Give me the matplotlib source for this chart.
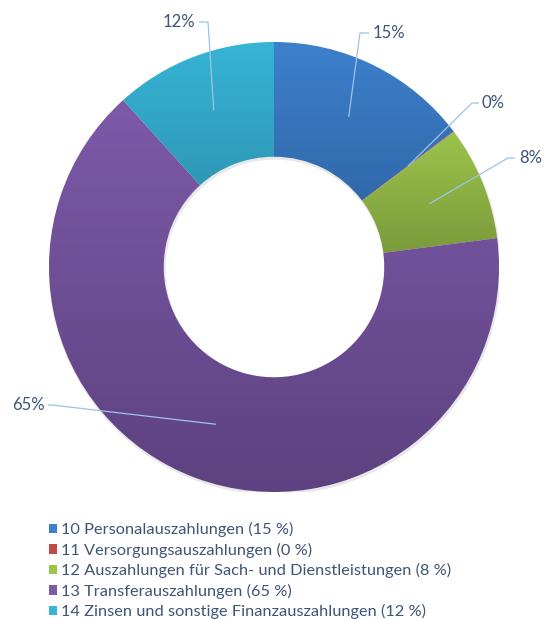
import numpy as np
import matplotlib
matplotlib.use("Agg")
import matplotlib.pyplot as plt
from matplotlib.colors import LinearSegmentedColormap
from matplotlib.patches import Rectangle, Wedge

plt.rcParams['font.family'] = ['Lato', 'DejaVu Sans']

# ---- data ----
categories = ["10 Personalauszahlungen",
              "11 Versorgungsauszahlungen",
              "12 Auszahlungen für Sach- und Dienstleistungen",
              "13 Transferauszahlungen",
              "14 Zinsen und sonstige Finanzauszahlungen"]
shares = [14.7, 0.05, 8.2, 65.35, 11.7]
top_colors = ["#3d80cc", "#c44a47", "#9cc44b", "#7d5aa8", "#37b4d6"]
bottom_colors = ["#2c5e9c", "#963836", "#77963a", "#5d4180", "#2a88a4"]

TXT = "#3e5575"
LINE = "#9dc3e6"

W, H = 544, 619
fig = plt.figure(figsize=(W / 100, H / 100), dpi=100)
cx, cy, R = 274, 267, 225
ax = fig.add_axes([(cx - R) / W, (H - cy - R) / H, 2 * R / W, 2 * R / H])

ring_w = 0.51
# soft shadow
ax.add_patch(Wedge((0.004, -0.009), 1.004, 0, 360, width=ring_w + 0.008,
                   facecolor="#000000", alpha=0.09, linewidth=0))

wedges, _ = ax.pie(shares, startangle=90, counterclock=False, radius=1,
                   wedgeprops=dict(width=ring_w, linewidth=0))

grad = np.linspace(0, 1, 256).reshape(-1, 1)
for w, tc, bc in zip(wedges, top_colors, bottom_colors):
    verts = w.get_patch_transform().transform(w.get_path().vertices)
    x0, x1 = verts[:, 0].min(), verts[:, 0].max()
    y0, y1 = verts[:, 1].min(), verts[:, 1].max()
    cmap = LinearSegmentedColormap.from_list("g", [bc, tc])
    im = ax.imshow(grad, cmap=cmap, origin="lower", extent=(x0, x1, y0, y1),
                   aspect="auto", interpolation="bilinear", zorder=2)
    im.set_clip_path(w)
    w.set_facecolor("none")

ax.set_xlim(-1, 1)
ax.set_ylim(-1, 1)
ax.set_aspect("equal")
ax.axis("off")


def to_data(px, py):
    return (px - cx) / R, (cy - py) / R


# label layout in pixels: (elbow, end of line, text pos, ha)
layout = [((360, 33), (369, 33), (373, 33), "left"),
          ((472, 103), (479, 103), (482, 103), "left"),
          ((508, 158), (515, 158), (519, 158), "left"),
          ((52, 405), (48, 405), (45, 405), "right"),
          ((208, 22), (199, 22), (195, 22), "right")]

cum = 0
pct = []
for s, (elb, end, tpos, ha) in zip(shares, layout):
    mid = np.deg2rad(90 - 3.6 * (cum + s / 2))
    cum += s
    ra = 1 - ring_w / 2
    ax_, ay_ = ra * np.cos(mid), ra * np.sin(mid)
    ex, ey = to_data(*elb)
    nx, ny = to_data(*end)
    ax.plot([ax_, ex, nx], [ay_, ey, ny], color=LINE, lw=0.9, zorder=5,
            clip_on=False, solid_capstyle="butt")
    p = int(round(s))
    pct.append(p)
    tx, ty = to_data(*tpos)
    ax.text(tx, ty, f"{p}%", ha=ha, va="center", fontsize=12, color=TXT,
            clip_on=False, zorder=6)

handles = [Rectangle((0, 0), 1, 1, facecolor=tc, edgecolor="none") for tc in top_colors]
labels = [f"{c} ({p} %)" for c, p in zip(categories, pct)]
fig.legend(handles, labels, loc="upper left", bbox_to_anchor=(41 / W, 1 - 514 / H),
           frameon=False, fontsize=11.8, handlelength=0.5, handleheight=0.5,
           handletextpad=0.25, labelspacing=0.33, labelcolor=TXT, borderpad=0)

fig.savefig("out.png", dpi=100, facecolor="white")
